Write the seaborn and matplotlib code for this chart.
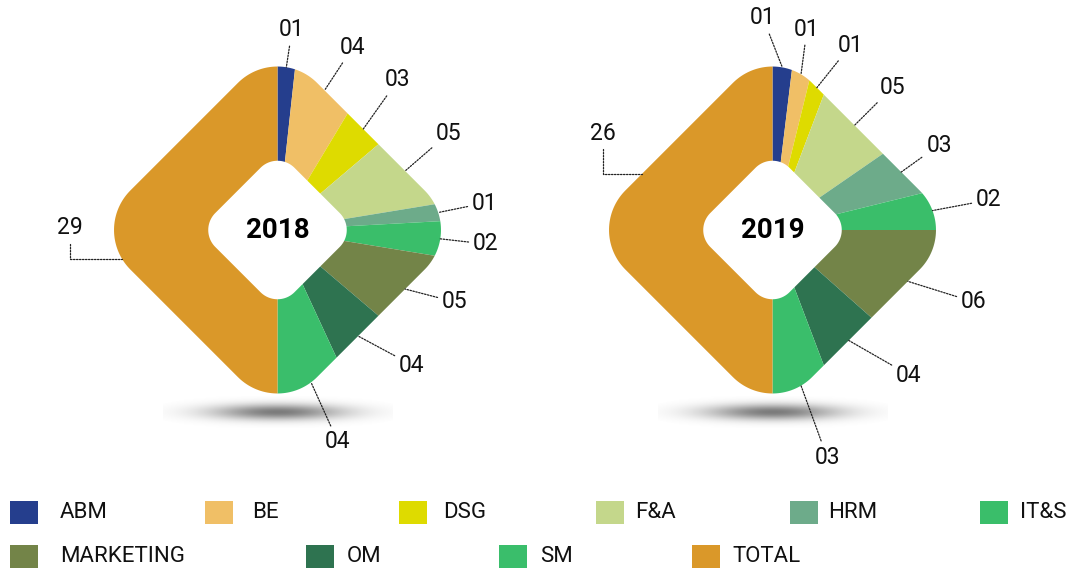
import numpy as np
import matplotlib.pyplot as plt
import seaborn as sns
from matplotlib.patches import Polygon, Rectangle

# data
categories = ['ABM', 'BE', 'DSG', 'F&A', 'HRM', 'IT&S', 'MARKETING', 'OM', 'SM', 'TOTAL']
values_2018 = [1, 4, 3, 5, 1, 2, 5, 4, 4, 29]
values_2019 = [1, 1, 1, 5, 3, 2, 6, 4, 3, 26]
years = ['2018', '2019']
colors = ['#253e8d', '#f0bf66', '#dedb00', '#c4d78b', '#6dab8a',
          '#3abe6a', '#738448', '#2e7350', '#3abe6b', '#da9829']

sns.set_theme(style='white')
plt.rcParams['font.family'] = ['Roboto', 'DejaVu Sans']

W, H = 1075, 572
fig = plt.figure(figsize=(W / 100, H / 100), dpi=100)
ax = fig.add_axes([0, 0, 1, 1])

S_OUT, R_OUT = 132, 56   # outer rounded diamond: half side, corner radius
S_IN, R_IN = 56, 24      # inner hole

centers = [(277.5, H - 230), (772.5, H - 230)]

# label text positions (pixel coords, y from top)
label_pos = [
    [(292, 30), (353, 47), (398, 80), (449, 133), (485, 203), (486, 244),
     (455, 302), (412, 365), (338, 442), (70, 228)],
    [(763, 18), (807, 29), (851, 45), (893, 87), (939, 145), (989, 200),
     (974, 302), (909, 375), (827, 457), (603, 133)],
]
total_anchor = [190.6, 156.7]


def rounded_diamond(cx, cy, s, r, **kw):
    pts = []
    for k, (sx, sy) in enumerate([(1, 1), (-1, 1), (-1, -1), (1, -1)]):
        ang = np.radians(np.linspace(90 * k, 90 * k + 90, 40))
        pts += list(zip(sx * (s - r) + r * np.cos(ang), sy * (s - r) + r * np.sin(ang)))
    pts = np.array(pts)
    c = np.cos(np.radians(45))
    rot = np.column_stack([c * pts[:, 0] - c * pts[:, 1], c * pts[:, 0] + c * pts[:, 1]])
    p = Polygon(rot + [cx, cy], closed=True, **kw)
    p.set_transform(ax.transData)
    return p


def edge_point(cx, cy, ang, s=S_OUT, r=R_OUT):
    a = np.radians(ang)
    d = np.array([np.cos(a), np.sin(a)])
    c, sn = np.cos(np.radians(-45)), np.sin(np.radians(-45))
    d = np.array([c * d[0] - sn * d[1], sn * d[0] + c * d[1]])
    lo, hi = 0.0, 2.0 * s
    for _ in range(40):
        t = (lo + hi) / 2
        q = np.abs(d * t) - (s - r)
        dist = np.linalg.norm(np.maximum(q, 0)) + min(max(q[0], q[1]), 0) - r
        if dist < 0:
            lo = t
        else:
            hi = t
    return cx + np.cos(a) * lo, cy + np.sin(a) * lo


# soft shadow
gx = np.linspace(-1, 1, 240)
gy = np.linspace(-1, 1, 48)
X, Y = np.meshgrid(gx, gy)
shade = np.zeros((48, 240, 4))
shade[..., 3] = 0.52 * np.exp(-(X ** 2) * 3.0) * np.exp(-(Y ** 2) * 4.0) * (X ** 2 + Y ** 2 < 1.3)

for i, vals in enumerate([values_2018, values_2019]):
    cx, cy = centers[i]
    ax.imshow(shade, extent=(cx - 115, cx + 115, H - 428, H - 396),
              aspect='auto', interpolation='bilinear', zorder=0)

    wedges, _ = ax.pie(vals, colors=colors, startangle=90, counterclock=False,
                       radius=200, center=(cx, cy),
                       wedgeprops=dict(linewidth=0))
    clip = rounded_diamond(cx, cy, S_OUT, R_OUT, facecolor='none', edgecolor='none')
    for w in wedges:
        w.set_clip_on(True)
        w.set_clip_path(clip)
        w.set_zorder(2)

    ax.add_patch(rounded_diamond(cx, cy, S_IN, R_IN, facecolor='white',
                                 edgecolor='none', zorder=3))
    ax.text(cx, cy, years[i], ha='center', va='center', fontsize=20,
            fontweight='bold', color='black', zorder=4)

    for j, (w, v) in enumerate(zip(wedges, vals)):
        tx, ty = label_pos[i][j]
        if categories[j] == 'TOTAL':
            anchor = edge_point(cx, cy, total_anchor[i])
            conn = 'angle,angleA=90,angleB=0,rad=0'
        else:
            anchor = edge_point(cx, cy, (w.theta1 + w.theta2) / 2)
            conn = 'arc3'
        ax.annotate(f'{v:02d}', xy=anchor, xytext=(tx, H - ty),
                    ha='center', va='center', fontsize=16.5, color='#111111',
                    zorder=5,
                    arrowprops=dict(arrowstyle='-', color='#222222', lw=0.9,
                                    linestyle=(0, (1.2, 1.2)), shrinkA=1, shrinkB=0,
                                    connectionstyle=conn))

# legend
legend_rows = [categories[:6], categories[6:]]
legend_cols = [colors[:6], colors[6:]]
square_x = [[10, 205, 399, 596, 790, 980], [10, 306, 499, 692]]
text_x = [[60, 252, 443, 635, 828, 1020], [60, 347, 540, 732]]
row_y = [512, 556]
for r, names in enumerate(legend_rows):
    for k, name in enumerate(names):
        yc = H - row_y[r]
        ax.add_patch(Rectangle((square_x[r][k], yc - 11.5), 28, 23,
                               facecolor=legend_cols[r][k], edgecolor='none'))
        ax.text(text_x[r][k], yc, name, ha='left', va='center',
                fontsize=16, color='#111111')

ax.set_xlim(0, W)
ax.set_ylim(0, H)
ax.set_aspect('auto')
ax.axis('off')
fig.savefig('out.png', dpi=100)
